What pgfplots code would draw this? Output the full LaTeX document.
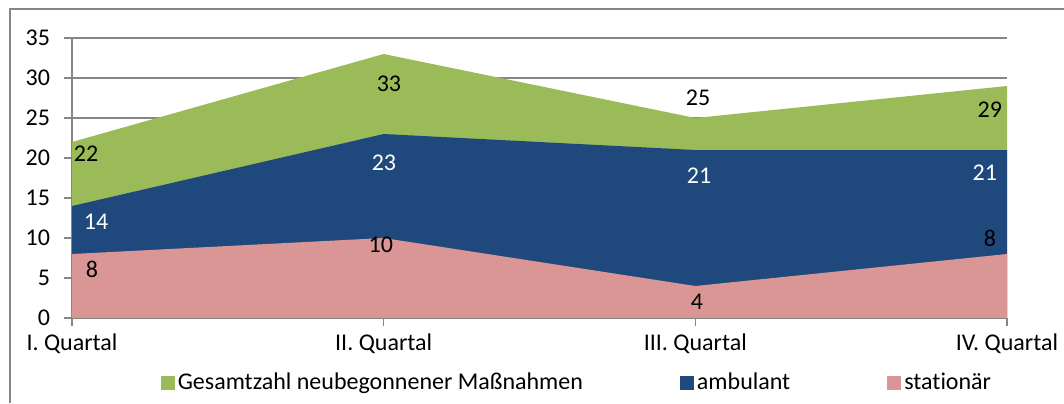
\documentclass[border=0pt]{standalone}
\usepackage{pgfplots}
\pgfplotsset{compat=1.18}
\usepackage{fontspec}
\setmainfont[Ligatures={NoCommon}]{Carlito}
\definecolor{cgreen}{RGB}{155,187,89}
\definecolor{cblue}{RGB}{31,73,125}
\definecolor{cpink}{RGB}{217,150,148}
\definecolor{cgrid}{RGB}{134,134,134}
\begin{document}
\begin{tikzpicture}[font=\fontsize{12}{14}\selectfont]
\path[use as bounding box] (0,0) rectangle (532pt,201.5pt);
\draw[cgrid, line width=0.6pt] (5pt,0) -- (5pt,197pt) -- (532pt,197pt);
\begin{axis}[
 at={(36pt,42.5pt)}, anchor=south west,
 width=467.5pt, height=140pt, scale only axis,
 xmin=0, xmax=3, ymin=0, ymax=35,
 axis lines=left, axis line style={-, cgrid, line width=0.6pt},
 xtick={0,1,2,3}, xticklabels={I. Quartal, II. Quartal, III. Quartal, IV. Quartal},
 ytick={0,5,...,35},
 ymajorgrids, grid style={cgrid, line width=0.6pt},
 tick style={cgrid, line width=0.6pt}, tick align=outside, major tick length=4pt,
 /pgf/number format/assume math mode=true,
 yticklabel style={anchor=east, xshift=-3.5pt},
 xticklabel style={anchor=center, yshift=-9pt},
 legend columns=3,
 legend style={at={(0.5406,-0.232)}, anchor=center, draw=none, fill=none,
   nodes={inner sep=1.5pt},
   /tikz/every even column/.append style={column sep=47pt}},
 clip=false,
]
\addplot[fill=cgreen, draw=none, legend image code/.code={\fill[cgreen] (0pt,-3.5pt) rectangle (7pt,3.5pt);}]
  coordinates {(0,22) (1,33) (2,25) (3,29)} \closedcycle;
\addlegendentry{Gesamtzahl neubegonnener Maßnahmen}
\addplot[fill=cblue, draw=none, legend image code/.code={\fill[cblue] (0pt,-3.5pt) rectangle (7pt,3.5pt);}]
  coordinates {(0,14) (1,23) (2,21) (3,21)} \closedcycle;
\addlegendentry{ambulant}
\addplot[fill=cpink, draw=none, legend image code/.code={\fill[cpink] (0pt,-3.5pt) rectangle (7pt,3.5pt);}]
  coordinates {(0,8) (1,10) (2,4) (3,8)} \closedcycle;
\addlegendentry{stat\kern0pt ionär}
\node[black] at (axis cs:0.045,20.5) {22};
\node[white] at (axis cs:0.077,12) {14};
\node[black] at (axis cs:0.064,6.1) {8};
\node[black] at (axis cs:1.017,29.25) {33};
\node[white] at (axis cs:1.001,19.4) {23};
\node[black] at (axis cs:0.991,9.1) {10};
\node[black] at (axis cs:2.009,27.5) {25};
\node[white] at (axis cs:2.012,17.75) {21};
\node[black] at (axis cs:2.005,2) {4};
\node[black] at (axis cs:2.945,26) {29};
\node[white] at (axis cs:2.929,18.1) {21};
\node[black] at (axis cs:2.945,10) {8};
\end{axis}
\end{tikzpicture}
\end{document}
